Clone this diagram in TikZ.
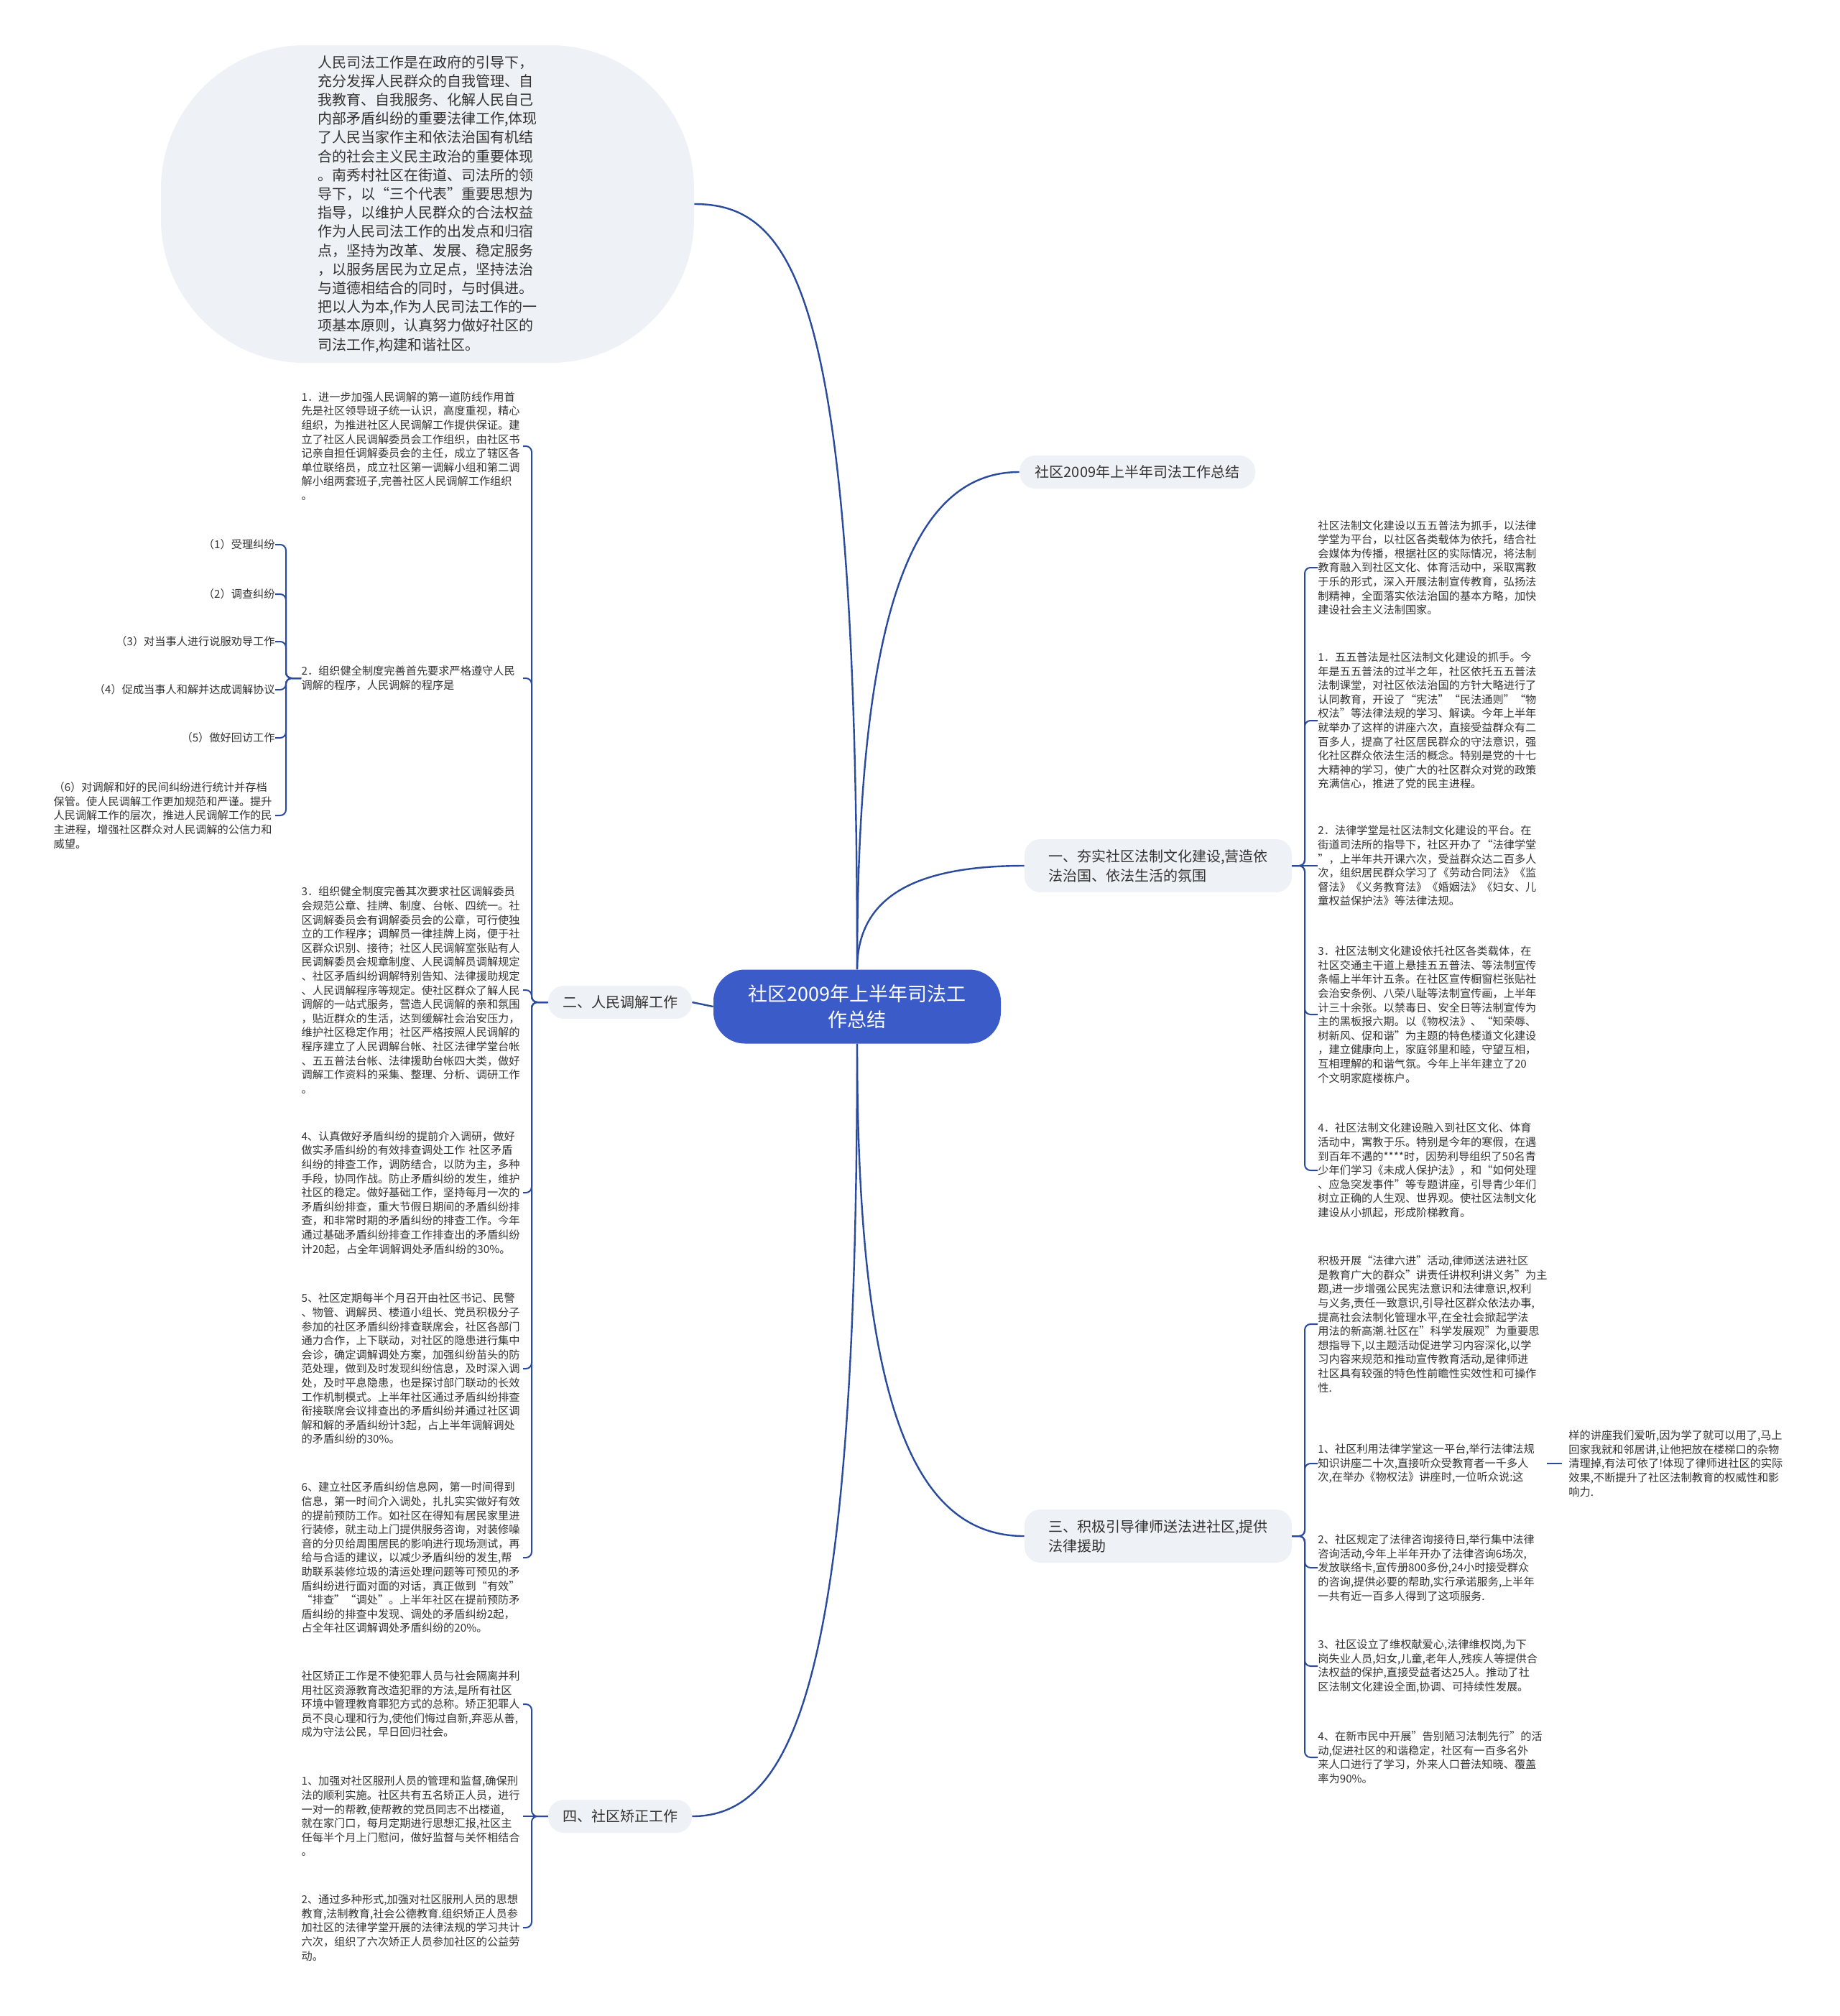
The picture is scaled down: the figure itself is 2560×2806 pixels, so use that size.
\documentclass[tikz,border=0pt]{standalone}
\usepackage{fontspec}
\setmainfont{Noto Sans CJK SC}
\usetikzlibrary{positioning}

\definecolor{linkblue}{HTML}{2A4A9E}
\definecolor{hubblue}{HTML}{3B5BC9}
\definecolor{branchgray}{HTML}{EEF1F5}
\definecolor{textgray}{HTML}{333333}

\tikzset{
    hub/.style={fill=hubblue, text=white, rounded corners=22pt, minimum width=200pt,
        minimum height=51.5pt, align=center, font=\fontsize{13.5}{18}\selectfont},
    bubble/.style={fill=branchgray, text=textgray, rounded corners=100pt, minimum width=371pt,
        minimum height=221pt, align=left, font=\fontsize{10}{13.1}\selectfont},
    branch/.style={fill=branchgray, text=textgray, rounded corners=11pt, inner sep=0pt,
        align=left, font=\fontsize{10}{13.5}\selectfont},
    leaf/.style={text=textgray, inner sep=0pt, align=left, text width=154pt,
        font=\fontsize{7.6}{9.8}\selectfont},
    item/.style={text=textgray, inner sep=0pt, font=\fontsize{7.6}{9.8}\selectfont},
    link/.style={draw=linkblue, line width=1.2pt},
    twig/.style={draw=linkblue, line width=1pt, rounded corners=4pt}
}

\begin{document}
\begin{tikzpicture}[x=0.5pt, y=-0.5pt]
    \fill[white] (0,0) rectangle (2560,2806);
    \useasboundingbox (0,0) rectangle (2560,2806);

    \node[hub] (hub) at (1193,1401) {社区2009年上半年司法工\\作总结};

    \node[bubble] (intro) at (595,284) {人民司法工作是在政府的引导下，\\充分发挥人民群众的自我管理、自\\我教育、自我服务、化解人民自己\\内部矛盾纠纷的重要法律工作,体现\\了人民当家作主和依法治国有机结\\合的社会主义民主政治的重要体现\\。南秀村社区在街道、司法所的领\\导下，以“三个代表”重要思想为\\指导，以维护人民群众的合法权益\\作为人民司法工作的出发点和归宿\\点，坚持为改革、发展、稳定服务\\，以服务居民为立足点，坚持法治\\与道德相结合的同时，与时俱进。\\把以人为本,作为人民司法工作的一\\项基本原则，认真努力做好社区的\\司法工作,构建和谐社区。};

    \node[branch, minimum width=164pt, minimum height=23pt] (summary) at (1583,657) {社区2009年上半年司法工作总结};
    \node[branch, minimum width=186pt, minimum height=37pt] (b1) at (1612,1205) {一、夯实社区法制文化建设,营造依\\法治国、依法生活的氛围};
    \node[branch, minimum width=186pt, minimum height=37pt] (b3) at (1612,2138) {三、积极引导律师送法进社区,提供\\法律援助};
    \node[branch, minimum width=100pt, minimum height=23pt] (b2) at (863,1395) {二、人民调解工作};
    \node[branch, minimum width=100pt, minimum height=23pt] (b4) at (863,2528) {四、社区矫正工作};

    \draw[link] (hub.north) .. controls (1193,420) and (1110,284) .. (intro.east);
    \draw[link] (hub.north) .. controls (1193,880) and (1260,657) .. (summary.west);
    \draw[link] (hub.north) .. controls (1193,1250) and (1270,1205) .. (b1.west);
    \draw[link] (hub.south) .. controls (1193,1950) and (1270,2138) .. (b3.west);
    \draw[link] (hub.south) .. controls (1193,2320) and (1110,2528) .. (b4.east);
    \draw[link] (hub.west) -- (b2.east);

    % 二、人民调解工作
    \node[leaf, anchor=east] (l1) at (728,621) {1．进一步加强人民调解的第一道防线作用首\\先是社区领导班子统一认识，高度重视，精心\\组织，为推进社区人民调解工作提供保证。建\\立了社区人民调解委员会工作组织，由社区书\\记亲自担任调解委员会的主任，成立了辖区各\\单位联络员，成立社区第一调解小组和第二调\\解小组两套班子,完善社区人民调解工作组织\\。};
    \node[leaf, anchor=east] (l2) at (728,944) {2．组织健全制度完善首先要求严格遵守人民\\调解的程序，人民调解的程序是};
    \node[leaf, anchor=east] (l3) at (728,1378) {3．组织健全制度完善其次要求社区调解委员\\会规范公章、挂牌、制度、台帐、四统一。社\\区调解委员会有调解委员会的公章，可行使独\\立的工作程序；调解员一律挂牌上岗，便于社\\区群众识别、接待；社区人民调解室张贴有人\\民调解委员会规章制度、人民调解员调解规定\\、社区矛盾纠纷调解特别告知、法律援助规定\\、人民调解程序等规定。使社区群众了解人民\\调解的一站式服务，营造人民调解的亲和氛围\\，贴近群众的生活，达到缓解社会治安压力，\\维护社区稳定作用；社区严格按照人民调解的\\程序建立了人民调解台帐、社区法律学堂台帐\\、五五普法台帐、法律援助台帐四大类，做好\\调解工作资料的采集、整理、分析、调研工作\\。};
    \node[leaf, anchor=east] (l4) at (728,1660) {4、认真做好矛盾纠纷的提前介入调研，做好\\做实矛盾纠纷的有效排查调处工作 社区矛盾\\纠纷的排查工作，调防结合，以防为主，多种\\手段，协同作战。防止矛盾纠纷的发生，维护\\社区的稳定。做好基础工作，坚持每月一次的\\矛盾纠纷排查，重大节假日期间的矛盾纠纷排\\查，和非常时期的矛盾纠纷的排查工作。今年\\通过基础矛盾纠纷排查工作排查出的矛盾纠纷\\计20起，占全年调解调处矛盾纠纷的30\%。};
    \node[leaf, anchor=east] (l5) at (728,1905) {5、社区定期每半个月召开由社区书记、民警\\、物管、调解员、楼道小组长、党员积极分子\\参加的社区矛盾纠纷排查联席会，社区各部门\\通力合作，上下联动，对社区的隐患进行集中\\会诊，确定调解调处方案，加强纠纷苗头的防\\范处理，做到及时发现纠纷信息，及时深入调\\处，及时平息隐患，也是探讨部门联动的长效\\工作机制模式。上半年社区通过矛盾纠纷排查\\衔接联席会议排查出的矛盾纠纷并通过社区调\\解和解的矛盾纠纷计3起，占上半年调解调处\\的矛盾纠纷的30\%。};
    \node[leaf, anchor=east] (l6) at (728,2168) {6、建立社区矛盾纠纷信息网，第一时间得到\\信息，第一时间介入调处，扎扎实实做好有效\\的提前预防工作。如社区在得知有居民家里进\\行装修，就主动上门提供服务咨询，对装修噪\\音的分贝给周围居民的影响进行现场测试，再\\给与合适的建议，以减少矛盾纠纷的发生,帮\\助联系装修垃圾的清运处理问题等可预见的矛\\盾纠纷进行面对面的对话，真正做到“有效”\\“排查”“调处”。上半年社区在提前预防矛\\盾纠纷的排查中发现、调处的矛盾纠纷2起，\\占全年社区调解调处矛盾纠纷的20\%。};

    \coordinate (j2) at (740,1395);
    \draw[twig] (b2.west) -- (j2) -- (j2 |- l1.east) -- (l1.east);
    \draw[twig] (b2.west) -- (j2) -- (j2 |- l2.east) -- (l2.east);
    \draw[twig] (b2.west) -- (j2) -- (j2 |- l3.east) -- (l3.east);
    \draw[twig] (b2.west) -- (j2) -- (j2 |- l4.east) -- (l4.east);
    \draw[twig] (b2.west) -- (j2) -- (j2 |- l5.east) -- (l5.east);
    \draw[twig] (b2.west) -- (j2) -- (j2 |- l6.east) -- (l6.east);

    \node[item, anchor=east] (i1) at (383,758) {（1）受理纠纷};
    \node[item, anchor=east] (i2) at (383,827) {（2）调查纠纷};
    \node[item, anchor=east] (i3) at (383,893) {（3）对当事人进行说服劝导工作};
    \node[item, anchor=east] (i4) at (383,960) {（4）促成当事人和解并达成调解协议};
    \node[item, anchor=east] (i5) at (383,1027) {（5）做好回访工作};
    \node[leaf, anchor=east] (i6) at (383,1135) {（6）对调解和好的民间纠纷进行统计并存档\\保管。使人民调解工作更加规范和严谨。提升\\人民调解工作的层次，推进人民调解工作的民\\主进程，增强社区群众对人民调解的公信力和\\威望。};

    \coordinate (ja) at (398,944);
    \draw[twig] (l2.west) -- (ja) -- (ja |- i1.east) -- (i1.east);
    \draw[twig] (l2.west) -- (ja) -- (ja |- i2.east) -- (i2.east);
    \draw[twig] (l2.west) -- (ja) -- (ja |- i3.east) -- (i3.east);
    \draw[twig] (l2.west) -- (ja) -- (ja |- i4.east) -- (i4.east);
    \draw[twig] (l2.west) -- (ja) -- (ja |- i5.east) -- (i5.east);
    \draw[twig] (l2.west) -- (ja) -- (ja |- i6.east) -- (i6.east);

    % 四、社区矫正工作
    \node[leaf, anchor=east] (l7) at (728,2372) {社区矫正工作是不使犯罪人员与社会隔离并利\\用社区资源教育改造犯罪的方法,是所有社区\\环境中管理教育罪犯方式的总称。矫正犯罪人\\员不良心理和行为,使他们悔过自新,弃恶从善,\\成为守法公民，早日回归社会。};
    \node[leaf, anchor=east] (l8) at (728,2528) {1、加强对社区服刑人员的管理和监督,确保刑\\法的顺利实施。社区共有五名矫正人员，进行\\一对一的帮教,使帮教的党员同志不出楼道,\\就在家门口，每月定期进行思想汇报,社区主\\任每半个月上门慰问，做好监督与关怀相结合\\。};
    \node[leaf, anchor=east] (l9) at (728,2683) {2、通过多种形式,加强对社区服刑人员的思想\\教育,法制教育,社会公德教育.组织矫正人员参\\加社区的法律学堂开展的法律法规的学习共计\\六次，组织了六次矫正人员参加社区的公益劳\\动。};

    \coordinate (j4) at (740,2528);
    \draw[twig] (b4.west) -- (j4) -- (j4 |- l7.east) -- (l7.east);
    \draw[twig] (b4.west) -- (l8.east);
    \draw[twig] (b4.west) -- (j4) -- (j4 |- l9.east) -- (l9.east);

    % 一、夯实社区法制文化建设
    \node[leaf, anchor=west] (r0) at (1834,790) {社区法制文化建设以五五普法为抓手，以法律\\学堂为平台，以社区各类载体为依托，结合社\\会媒体为传播，根据社区的实际情况，将法制\\教育融入到社区文化、体育活动中，采取寓教\\于乐的形式，深入开展法制宣传教育，弘扬法\\制精神，全面落实依法治国的基本方略，加快\\建设社会主义法制国家。};
    \node[leaf, anchor=west] (r1) at (1834,1003) {1．五五普法是社区法制文化建设的抓手。今\\年是五五普法的过半之年，社区依托五五普法\\法制课堂，对社区依法治国的方针大略进行了\\认同教育，开设了“宪法”“民法通则”“物\\权法”等法律法规的学习、解读。今年上半年\\就举办了这样的讲座六次，直接受益群众有二\\百多人，提高了社区居民群众的守法意识，强\\化社区群众依法生活的概念。特别是党的十七\\大精神的学习，使广大的社区群众对党的政策\\充满信心，推进了党的民主进程。};
    \node[leaf, anchor=west] (r2) at (1834,1205) {2．法律学堂是社区法制文化建设的平台。在\\街道司法所的指导下，社区开办了“法律学堂\\”，上半年共开课六次，受益群众达二百多人\\次，组织居民群众学习了《劳动合同法》《监\\督法》《义务教育法》《婚姻法》《妇女、儿\\童权益保护法》等法律法规。};
    \node[leaf, anchor=west] (r3) at (1834,1412) {3．社区法制文化建设依托社区各类载体，在\\社区交通主干道上悬挂五五普法、等法制宣传\\条幅上半年计五条。在社区宣传橱窗栏张贴社\\会治安条例、八荣八耻等法制宣传画，上半年\\计三十余张。以禁毒日、安全日等法制宣传为\\主的黑板报六期。以《物权法》、“知荣辱、\\树新风、促和谐”为主题的特色楼道文化建设\\，建立健康向上，家庭邻里和睦，守望互相，\\互相理解的和谐气氛。今年上半年建立了20\\个文明家庭楼栋户。};
    \node[leaf, anchor=west] (r4) at (1834,1629) {4．社区法制文化建设融入到社区文化、体育\\活动中，寓教于乐。特别是今年的寒假，在遇\\到百年不遇的****时，因势利导组织了50名青\\少年们学习《未成人保护法》，和“如何处理\\、应急突发事件”等专题讲座，引导青少年们\\树立正确的人生观、世界观。使社区法制文化\\建设从小抓起，形成阶梯教育。};

    \coordinate (j1) at (1816,1205);
    \draw[twig] (b1.east) -- (j1) -- (j1 |- r0.west) -- (r0.west);
    \draw[twig] (b1.east) -- (j1) -- (j1 |- r1.west) -- (r1.west);
    \draw[twig] (b1.east) -- (r2.west);
    \draw[twig] (b1.east) -- (j1) -- (j1 |- r3.west) -- (r3.west);
    \draw[twig] (b1.east) -- (j1) -- (j1 |- r4.west) -- (r4.west);

    % 三、积极引导律师送法进社区
    \node[leaf, anchor=west] (r5) at (1834,1843) {积极开展“法律六进”活动,律师送法进社区\\是教育广大的群众"讲责任讲权利讲义务"为主\\题,进一步增强公民宪法意识和法律意识,权利\\与义务,责任一致意识,引导社区群众依法办事,\\提高社会法制化管理水平,在全社会掀起学法\\用法的新高潮.社区在"科学发展观"为重要思\\想指导下,以主题活动促进学习内容深化,以学\\习内容来规范和推动宣传教育活动,是律师进\\社区具有较强的特色性前瞻性实效性和可操作\\性.};
    \node[leaf, anchor=west] (r6) at (1834,2037) {1、社区利用法律学堂这一平台,举行法律法规\\知识讲座二十次,直接听众受教育者一千多人\\次,在举办《物权法》讲座时,一位听众说:这};
    \node[leaf, anchor=west] (r6a) at (2183,2037) {样的讲座我们爱听,因为学了就可以用了,马上\\回家我就和邻居讲,让他把放在楼梯口的杂物\\清理掉,有法可依了!体现了律师进社区的实际\\效果,不断提升了社区法制教育的权威性和影\\响力.};
    \node[leaf, anchor=west] (r7) at (1834,2182) {2、社区规定了法律咨询接待日,举行集中法律\\咨询活动,今年上半年开办了法律咨询6场次,\\发放联络卡,宣传册800多份,24小时接受群众\\的咨询,提供必要的帮助,实行承诺服务,上半年\\一共有近一百多人得到了这项服务.};
    \node[leaf, anchor=west] (r8) at (1834,2319) {3、社区设立了维权献爱心,法律维权岗,为下\\岗失业人员,妇女,儿童,老年人,残疾人等提供合\\法权益的保护,直接受益者达25人。推动了社\\区法制文化建设全面,协调、可持续性发展。};
    \node[leaf, anchor=west] (r9) at (1834,2446) {4、在新市民中开展"告别陋习法制先行"的活\\动,促进社区的和谐稳定，社区有一百多名外\\来人口进行了学习，外来人口普法知晓、覆盖\\率为90\%。};

    \coordinate (j3) at (1816,2138);
    \draw[twig] (b3.east) -- (j3) -- (j3 |- r5.west) -- (r5.west);
    \draw[twig] (b3.east) -- (j3) -- (j3 |- r6.west) -- (r6.west);
    \draw[twig] (b3.east) -- (j3) -- (j3 |- r7.west) -- (r7.west);
    \draw[twig] (b3.east) -- (j3) -- (j3 |- r8.west) -- (r8.west);
    \draw[twig] (b3.east) -- (j3) -- (j3 |- r9.west) -- (r9.west);
    \draw[twig] ([xshift=5pt]r6.east) -- ([xshift=-4.5pt]r6a.west);
\end{tikzpicture}
\end{document}
